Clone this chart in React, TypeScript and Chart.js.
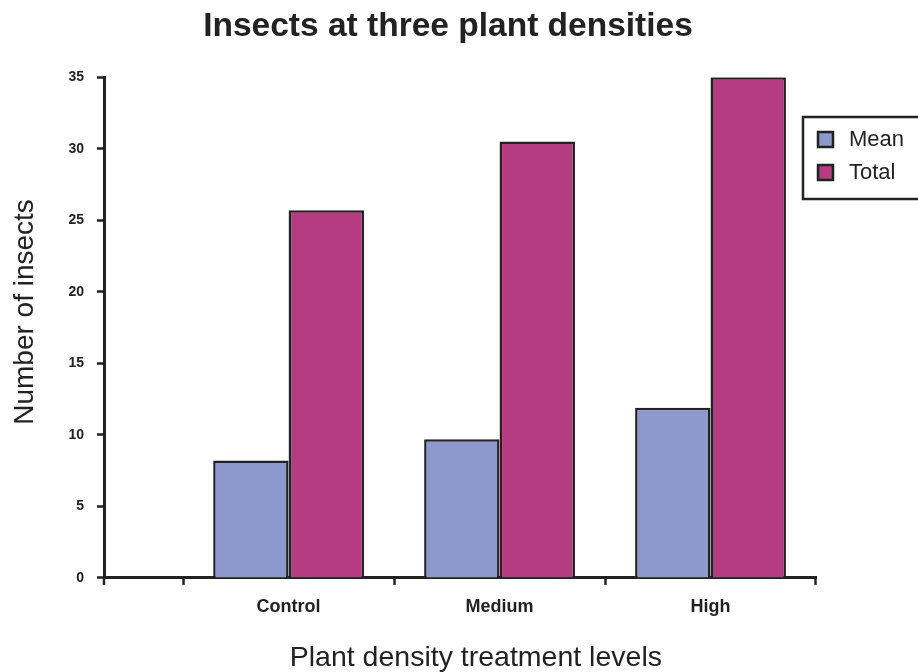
import React, { useEffect, useRef } from 'react';
import { Chart, registerables } from 'chart.js';

Chart.register(...registerables);

const titleText = 'Insects at three plant densities';
const xAxisTitle = '    Plant density treatment levels';
const yAxisTitle = '    Number of insects';
const categories = ['Control', 'Medium', 'High'];
const seriesNames = ['Mean', 'Total'];
const meanValues = [8.2, 9.7, 11.9];
const totalValues = [25.7, 30.5, 35.0];
const yTicks = [0, 5, 10, 15, 20, 25, 30, 35];
const seriesColors = ['#8F98CC', '#B53C80'];

const FONT = "'Liberation Sans', Arial, Helvetica, sans-serif";
const INK = '#222222';

const boxLegend = {
  id: 'boxLegend',
  afterDraw(chart: any, _args: any, opts: any) {
    const ctx = chart.ctx;
    ctx.save();
    // small tick continuing the value axis below the category axis
    const xs = chart.scales.x;
    ctx.strokeStyle = INK;
    ctx.lineWidth = 2.5;
    ctx.beginPath();
    ctx.moveTo(xs.left, xs.top);
    ctx.lineTo(xs.left, xs.top + opts.cornerTick);
    ctx.stroke();

    ctx.fillStyle = '#ffffff';
    ctx.fillRect(opts.x, opts.y, opts.width, opts.height);
    ctx.strokeStyle = INK;
    ctx.lineWidth = 2.5;
    ctx.strokeRect(opts.x, opts.y, opts.width, opts.height);
    ctx.font = `${opts.fontSize}px ${FONT}`;
    ctx.textBaseline = 'middle';
    ctx.textAlign = 'left';
    chart.data.datasets.forEach((ds: any, i: number) => {
      const sy = opts.y + opts.padTop + i * opts.rowHeight;
      const sx = opts.x + opts.padLeft;
      ctx.fillStyle = ds.backgroundColor;
      ctx.fillRect(sx, sy, opts.swatch, opts.swatch);
      ctx.lineWidth = 2.5;
      ctx.strokeStyle = INK;
      ctx.strokeRect(sx, sy, opts.swatch, opts.swatch);
      ctx.fillStyle = INK;
      ctx.fillText(ds.label, sx + opts.swatch + opts.textGap, sy + opts.swatch / 2);
    });
    ctx.restore();
  },
};

export default function App() {
  const canvasRef = useRef<HTMLCanvasElement | null>(null);

  useEffect(() => {
    const canvas = canvasRef.current;
    if (!canvas) return;
    const seriesValues = [meanValues, totalValues];
    const chart = new Chart(canvas, {
      type: 'bar',
      data: {
        datasets: seriesNames.map((name, s) => ({
          label: name,
          data: categories.map((_, i) => ({ x: i + 0.5, y: seriesValues[s][i] })),
          backgroundColor: seriesColors[s],
          borderColor: INK,
          borderWidth: 2.5,
          borderSkipped: 'start',
          categoryPercentage: 0.715,
          barPercentage: 1.0,
          yAxisID: 'y',
        })),
      },
      options: {
        responsive: false,
        animation: false,
        events: [],
        layout: { padding: { left: 0, right: 22, top: 0, bottom: 0 } },
        plugins: {
          legend: { display: false },
          tooltip: { enabled: false },
          title: {
            display: true,
            text: titleText,
            color: INK,
            font: { family: FONT, size: 33.5, weight: 'bold', lineHeight: 1.2 },
            padding: { top: 7, bottom: 30 },
          },
          boxLegend: {
            x: 803, y: 117, width: 130, height: 82,
            padTop: 15, padLeft: 15, rowHeight: 33, swatch: 15, textGap: 16, fontSize: 22,
            cornerTick: 7,
          },
        } as any,
        scales: {
          x: {
            type: 'linear',
            min: -0.375,
            max: categories.length,
            offset: false,
            afterBuildTicks: (scale: any) => {
              scale.ticks = categories.map((_, i) => ({ value: i + 0.5 }));
            },
            ticks: {
              autoSkip: false,
              maxRotation: 0,
              color: INK,
              padding: 11,
              font: { family: FONT, size: 18, weight: 'bold' },
              callback: (_v: any, i: number) => categories[i],
            },
            grid: {
              offset: true,
              drawOnChartArea: false,
              drawTicks: true,
              tickLength: 7,
              tickColor: INK,
              tickWidth: 2.5,
            },
            border: { display: true, color: INK, width: 3 },
            title: {
              display: true,
              text: xAxisTitle,
              color: INK,
              font: { family: FONT, size: 28.5, lineHeight: 1.0 },
              padding: { top: 15, bottom: 0 },
            },
          },
          y: {
            type: 'linear',
            position: 'left',
            min: 0,
            max: 35,
            afterBuildTicks: (scale: any) => {
              scale.ticks = yTicks.map((v) => ({ value: v }));
            },
            afterFit: (scale: any) => {
              scale.width = 104;
            },
            ticks: {
              color: INK,
              padding: 13,
              font: { family: FONT, size: 14, weight: 'bold' },
            },
            grid: {
              drawOnChartArea: false,
              drawTicks: true,
              tickLength: 7,
              tickColor: INK,
              tickWidth: 2.5,
            },
            border: { display: true, color: INK, width: 3 },
            title: {
              display: true,
              text: yAxisTitle,
              color: INK,
              font: { family: FONT, size: 28, lineHeight: 1.0 },
              padding: { top: 11, bottom: 30 },
            },
          },
          yRight: {
            type: 'linear',
            position: 'right',
            display: true,
            grid: { display: false },
            border: { display: false },
            ticks: { display: false },
            afterFit: (scale: any) => {
              scale.width = 80;
            },
          },
        },
      },
      plugins: [boxLegend],
    });
    return () => chart.destroy();
  }, []);

  return (
    <div style={{ position: 'absolute', left: 0, top: 0, width: 918, height: 672, background: '#fff' }}>
      <canvas ref={canvasRef} width={918} height={672} />
    </div>
  );
}
